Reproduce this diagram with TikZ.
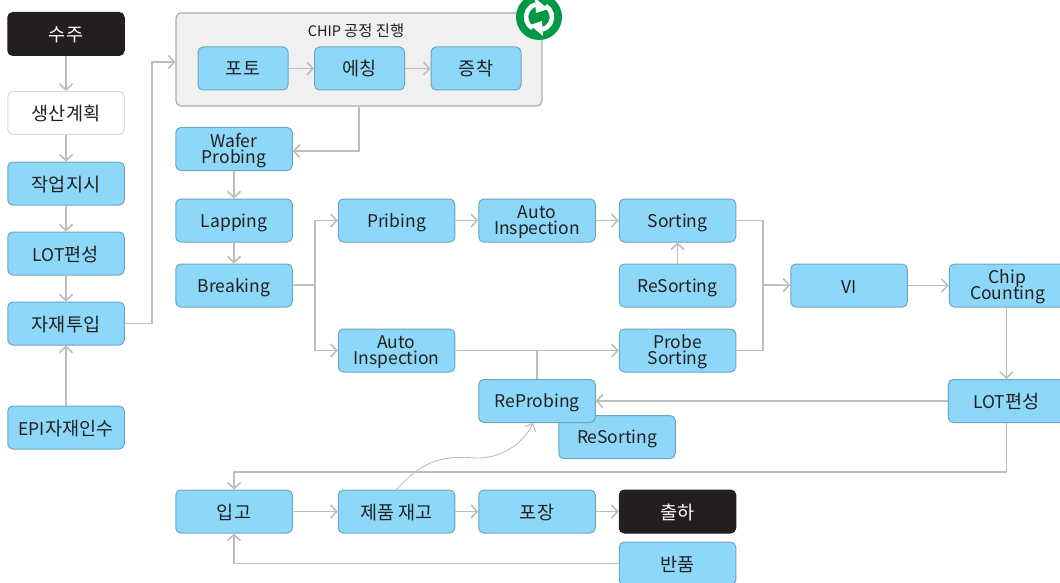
\documentclass[tikz,border=0pt]{standalone}
\usepackage{fontspec}
\setmainfont{Noto Sans CJK KR}
\newfontfamily\krfont[Scale=1.06]{Noto Sans CJK KR}
\newcommand{\kr}[1]{{\krfont #1}}
\newcommand{\topstrut}{\vrule height 18pt depth 3pt width 0pt\relax}
\newcommand{\tallstrut}{\vrule height 33pt depth 3pt width 0pt\relax}
\newcommand{\botstrut}{\vrule height 1pt depth 3pt width 0pt\relax}
\lineskiplimit=-100pt
\usetikzlibrary{arrows.meta, positioning}
\definecolor{boxblue}{HTML}{8DD8F9}
\definecolor{boxline}{HTML}{6FA5C2}
\definecolor{flowgray}{HTML}{BDBDBD}
\definecolor{inkdark}{HTML}{231F20}
\definecolor{icongreen}{HTML}{009A44}
\tikzset{
  proc/.style={draw=boxline, fill=boxblue, rounded corners=5pt, line width=1pt, minimum width=116.5pt, minimum height=43pt, inner sep=0pt, align=center, text=inkdark, font=\fontsize{17.5}{16}\selectfont, execute at begin node=\topstrut, execute at end node=\botstrut},
  proctwo/.style={proc, execute at begin node=\tallstrut},
  procsmall/.style={proc, minimum width=90pt},
  darkbox/.style={proc, draw=inkdark, fill=inkdark, text=white},
  whitebox/.style={proc, draw=black!15, fill=white},
  panelbox/.style={draw=black!32, fill=black!6, rounded corners=5pt, line width=1.2pt, minimum width=366pt, minimum height=93pt, inner sep=0pt},
  flow/.style={draw=flowgray, line width=1.7pt, -{Straight Barb[length=6pt,width=13pt,line width=1.6pt]}},
  plainflow/.style={draw=flowgray, line width=1.7pt},
  thinflow/.style={draw=flowgray, line width=0.9pt, -{Straight Barb[length=6pt,width=12pt,line width=1.2pt]}}
}
\begin{document}
\begin{tikzpicture}[x=1pt, y=-1pt]
  \useasboundingbox (0,0) rectangle (1060,583);
  \clip (0,0) rectangle (1060,583);
%% left column
  \node[darkbox] (suju) at (66,34) {\kr{수주}};
  \node[whitebox] (plan) at (66,113) {\kr{생산계획}};
  \node[proc] (order) at (66,183.5) {\kr{작업지시}};
  \node[proc] (lotA) at (66,253.5) {LOT\kr{편성}};
  \node[proc] (input) at (66,323.5) {\kr{자재투입}};
  \node[proc] (epi) at (66,427.5) {EPI\kr{자재인수}};
%% chip panel
  \node[panelbox] (panel) at (359,59.5) {};
  \node[font=\fontsize{14.5}{16}\selectfont, text=inkdark, inner sep=0pt] (title) at (356,31) {CHIP \kr{공정 진행}};
  \node[procsmall] (photo) at (243,68.5) {\kr{포토}};
  \node[procsmall] (etch) at (359.5,68.5) {\kr{에칭}};
  \node[procsmall] (depo) at (476,68.5) {\kr{증착}};
%% refresh icon
  \fill[icongreen] (539,17) circle (23);
  \draw[white, line width=4.5pt] (539,17) ++(120:13) arc[start angle=120, end angle=255, radius=13];
  \draw[white, line width=4.5pt] (539,17) ++(300:13) arc[start angle=300, end angle=435, radius=13];
  \fill[white] (535,-2) -- (536,13) -- (548,9) -- cycle;
  \fill[white] (543,36) -- (542,21) -- (530,25) -- cycle;
%% second column
  \node[proctwo] (wafer) at (234,149) {Wafer\\Probing};
  \node[proc] (lapping) at (234,220.5) {Lapping};
  \node[proc] (breaking) at (234,285.5) {Breaking};
  \node[proc] (pribing) at (396.5,220.5) {Pribing};
  \node[proctwo] (autoA) at (396.5,350.5) {Auto\\Inspection};
  \node[proctwo] (autoB) at (537,220.5) {Auto\\Inspection};
  \node[proc] (sorting) at (677.5,220.5) {Sorting};
  \node[proc] (resortA) at (677.5,285.5) {ReSorting};
  \node[proctwo] (probe) at (677.5,350.5) {Probe\\Sorting};
  \node[proc] (vi) at (849,285.5) {VI};
  \node[proctwo] (chipcnt) at (1007.5,285.5) {Chip\\Counting};
  \node[proc] (lotB) at (1006.5,401) {LOT\kr{편성}};
  \node[proc] (resortB) at (617,437) {ReSorting};
  \node[proc] (reprob) at (537,401) {ReProbing};
%% bottom row
  \node[proc] (ipgo) at (234,511.5) {\kr{입고}};
  \node[proc] (stock) at (396.5,511.5) {\kr{제품 재고}};
  \node[proc] (pack) at (537,511.5) {\kr{포장}};
  \node[darkbox] (ship) at (677.5,511.5) {\kr{출하}};
  \node[proc] (ret) at (677.5,563.5) {\kr{반품}};
%% bend points
  \coordinate (bendA) at (152,62);
  \coordinate (bendB) at (359,151);
  \coordinate (bendC) at (315,285);
  \coordinate (bendD) at (763,285);
  \coordinate (bendE) at (537,350);
  \coordinate (bendF) at (234,472);
%% connectors
  \draw[flow] (suju) -- (plan);
  \draw[flow] (plan) -- (order);
  \draw[flow] (order) -- (lotA);
  \draw[flow] (lotA) -- (input);
  \draw[flow] (epi) -- (input);
  \draw[flow] (input) -| (bendA) -- (panel.west |- bendA);
  \draw[flow] (photo) -- (etch);
  \draw[flow] (etch) -- (depo);
  \draw[flow] (panel.south) -- (bendB) -- (wafer.east |- bendB);
  \draw[flow] (wafer) -- (lapping);
  \draw[flow] (lapping) -- (breaking);
  \draw[plainflow] (breaking) -- (bendC);
  \draw[flow] (bendC) |- (pribing);
  \draw[flow] (bendC) |- (autoA);
  \draw[flow] (pribing) -- (autoB);
  \draw[flow] (autoB) -- (sorting);
  \draw[flow] (resortA) -- (sorting);
  \draw[flow] (autoA) -- (probe);
  \draw[plainflow] (reprob) -- (bendE);
  \draw[plainflow] (sorting) -| (bendD);
  \draw[plainflow] (probe) -| (bendD);
  \draw[flow] (bendD) -- (vi);
  \draw[flow] (vi) -- (chipcnt);
  \draw[flow] (chipcnt.south -| lotB) -- (lotB);
  \draw[flow] (lotB) -- (reprob);
  \draw[flow] (lotB) |- (bendF) -- (ipgo);
  \draw[flow] (ipgo) -- (stock);
  \draw[flow] (stock) -- (pack);
  \draw[flow] (pack) -- (ship);
  \draw[flow] (ret) -| (ipgo);
  \draw[thinflow] (stock.north) .. controls (425,458) and (445,456) .. (475,458) .. controls (505,459) and (525,440) .. ([xshift=-4pt]reprob.south);
\end{tikzpicture}
\end{document}
